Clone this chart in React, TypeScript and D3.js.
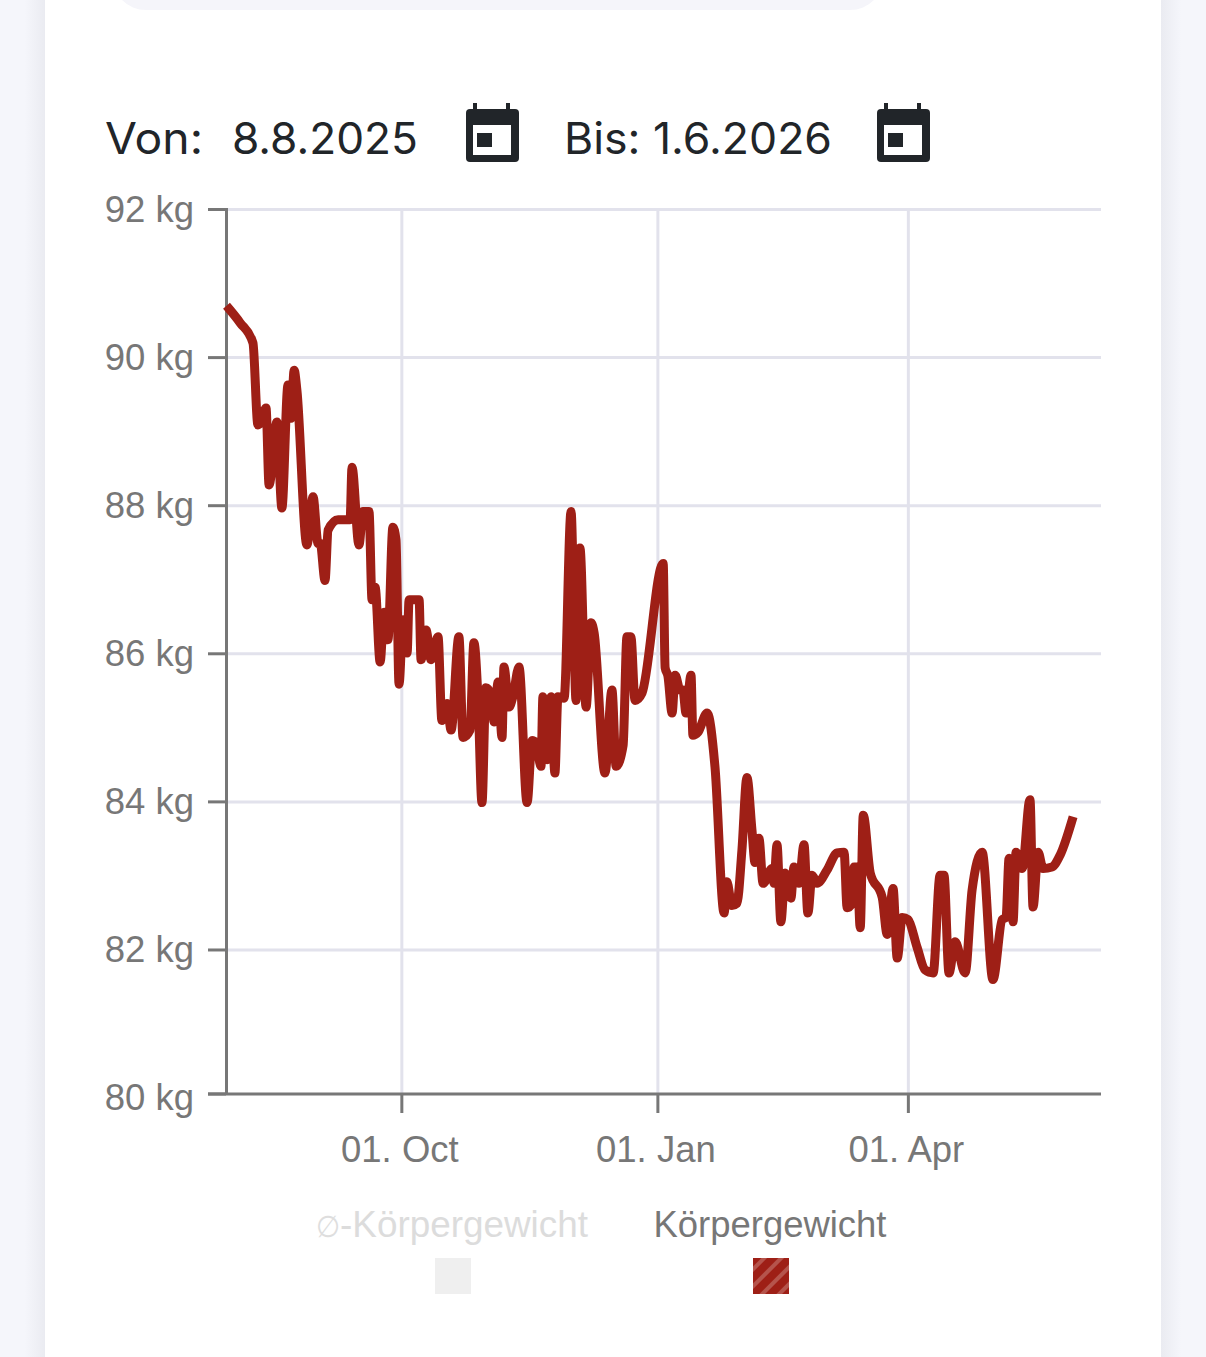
import React from "react";
import * as d3 from "d3";

const startDate = Date.UTC(2025, 6, 30);
const endDate = Date.UTC(2026, 5, 9);
const dayMs = 86400000;

const yTicks = [80, 82, 84, 86, 88, 90, 92];
const yAxisMin = 80.055;
const yAxisMax = 92;
const xTickDates = [Date.UTC(2025, 9, 1), Date.UTC(2026, 0, 1), Date.UTC(2026, 3, 1)];
const xTickLabels = ["01. Oct", "01. Jan", "01. Apr"];

const days = [
  0, 4.9, 9.5, 11.3, 12.4, 14.2, 15.3, 18.1, 19.9, 22.1, 23.2, 24.3, 25.3, 28.9, 31.1, 32.9, 33.7, 35.4, 36.5, 40.1, 44.4, 45.1,
  47.6, 49, 51.2, 52.3, 53.4, 55.2, 56.6, 58, 59.8, 60.9, 62, 63.4, 64.9, 65.6, 69.2, 69.9, 71.7, 73.5, 76, 77.4,
  79.2, 80.7, 83.5, 85, 87.5, 88.9, 90.4, 91.8, 93.2, 95.4, 96.1, 97.6, 99, 99.7, 101.5, 102.9, 105.1, 108, 109.8, 111.2,
  113, 113.7, 115.2, 116.6, 118, 119.1, 121.3, 123.8, 125.6, 127, 129.2, 131, 132.1, 136, 138.5, 140, 142.5, 143.9, 145.3, 146.8,
  149.3, 156.9, 157.6, 158.6, 160.1, 161.2, 163, 164, 165.1, 166.9, 167.6, 169.4, 172.7, 175.5, 178.8, 179.8, 181.6, 183.4, 185.2, 187, 188.8,
  189.9, 191.3, 192.8, 196, 196.7, 197.8, 199.2, 200.7, 202.8, 203.9, 205.7, 207.5, 208.9, 210.4, 212.2, 215.8, 219.4, 221.9, 223, 224.8,
  225.5, 226.6, 227.7, 228.8, 231.3, 235.6, 237.4, 239.5, 241, 242.8, 244.9, 248.1, 251, 253.9, 256.4, 257.8, 259.6, 261.8, 265.4, 267.9,
  271.5, 275.4, 278.7, 280.1, 281.2, 282.6, 283.7, 285.9, 288.7, 289.8, 291.6, 293.4, 296.6, 299.5, 304.2,
];

const weights = [
  90.7, 90.47, 90.2, 89.09, 89.13, 89.32, 88.28, 89.13, 87.97, 89.63, 89.18, 89.83, 89.56, 87.47, 88.12, 87.49, 87.49, 86.99, 87.67, 87.81, 87.81, 88.52,
  87.47, 87.92, 87.92, 86.73, 86.9, 85.89, 86.56, 86.19, 87.71, 87.54, 85.59, 86.46, 86.01, 86.73, 86.73, 85.92, 86.32, 85.92, 86.23, 85.1,
  85.33, 84.97, 86.23, 84.87, 84.97, 86.15, 85.37, 83.99, 85.54, 85.42, 85.08, 85.62, 84.87, 85.82, 85.28, 85.42, 85.82, 83.99, 84.83, 84.8,
  84.48, 85.42, 84.57, 85.42, 84.39, 85.42, 85.4, 87.92, 85.37, 87.43, 85.28, 86.42, 86.28, 84.39, 85.51, 84.48, 84.76, 86.23, 86.23, 85.37,
  85.47, 87.22, 85.81, 85.7, 85.2, 85.71, 85.51, 85.51, 85.2, 85.71, 84.9, 84.94, 85.2, 84.48, 82.5, 82.92, 82.6, 82.63, 83.35, 84.33, 83.62,
  83.18, 83.51, 82.9, 83.1, 82.9, 83.42, 82.38, 83.04, 82.7, 83.12, 82.9, 83.42, 82.5, 83.01, 82.9, 83.08, 83.31, 83.32, 82.57, 82.63,
  83.12, 83.12, 82.3, 83.82, 83.04, 82.71, 82.21, 82.83, 81.89, 82.44, 82.41, 82.04, 81.73, 81.69, 83.01, 83.01, 81.69, 82.11, 81.69, 82.81,
  83.32, 81.6, 82.41, 82.44, 83.24, 82.38, 83.32, 83.1, 84.03, 82.58, 83.32, 83.1, 83.12, 83.28, 83.8,
];

const legendAverage = "-Körpergewicht";
const legendAverageMark = "∅";
const legendWeight = "Körpergewicht";
const fromLabel = "Von:";
const fromDate = "8.8.2025";
const toLabel = "Bis: 1.6.2026";

const INK = "#212529";
const AXIS = "#777777";
const GRID = "#e2e2ec";
const RED = "#9e1f16";

function CalendarIcon({ x }: { x: number }) {
  return (
    <g transform={`translate(${x},103)`} fill={INK}>
      <rect x={8} y={0} width={4} height={10} />
      <rect x={41} y={0} width={4} height={10} />
      <rect x={1} y={6} width={53} height={53} rx={4} />
      <rect x={8} y={22} width={38} height={30} fill="#ffffff" />
      <rect x={12} y={30} width={15} height={14} />
    </g>
  );
}

export default function App() {
  const x = d3.scaleUtc().domain([startDate, endDate]).range([226.5, 1100.4]);
  const y = d3.scaleLinear().domain([yAxisMin, yAxisMax]).range([1094, 209.5]);
  const line = d3
    .line<number>()
    .x((d) => x(startDate + d * dayMs))
    .y((_, i) => y(weights[i]))
    .curve(d3.curveMonotoneX);
  const sans = "'Liberation Sans', Arial, sans-serif";
  const base = y(yAxisMin);

  return (
    <svg
      width={1206}
      height={1357}
      viewBox="0 0 1206 1357"
      style={{ position: "absolute", left: 0, top: 0, display: "block" }}
    >
      <defs>
        <linearGradient id="shadeL" x1="0" x2="1" y1="0" y2="0">
          <stop offset="0" stopColor="#f5f6fb" />
          <stop offset="0.55" stopColor="#f5f6fb" />
          <stop offset="1" stopColor="#eaebf1" />
        </linearGradient>
        <linearGradient id="shadeR" x1="1" x2="0" y1="0" y2="0">
          <stop offset="0" stopColor="#f5f6fb" />
          <stop offset="0.55" stopColor="#f5f6fb" />
          <stop offset="1" stopColor="#eaebf1" />
        </linearGradient>
        <pattern id="hatch" width="12" height="12" patternUnits="userSpaceOnUse" patternTransform="rotate(45)">
          <rect width="12" height="12" fill={RED} />
          <rect width="4" height="12" fill="#b5544c" />
        </pattern>
      </defs>

      <rect x={0} y={0} width={1206} height={1357} fill="#f5f6fb" />
      <rect x={0} y={0} width={45} height={1357} fill="url(#shadeL)" />
      <rect x={1161} y={0} width={45} height={1357} fill="url(#shadeR)" />
      <rect x={45} y={0} width={1116} height={1357} fill="#ffffff" />
      <rect x={112} y={-60} width={772} height={70} rx={34} fill="#f5f5fa" />

      <g opacity={0.999}>
        <g fontFamily="Inter, sans-serif" fontSize={44} fill={INK}>
          <text x={105} y={154} textLength={98} lengthAdjust="spacingAndGlyphs">{fromLabel}</text>
          <text x={232} y={154} textLength={186} lengthAdjust="spacingAndGlyphs">{fromDate}</text>
          <text x={564} y={154} textLength={268} lengthAdjust="spacingAndGlyphs">{toLabel}</text>
        </g>
      </g>
      <CalendarIcon x={465} />
      <CalendarIcon x={876} />

      {yTicks.filter((t) => t !== 80).map((t) => (
        <line key={t} x1={226} x2={1101} y1={y(t)} y2={y(t)} stroke={GRID} strokeWidth={3} />
      ))}
      {xTickDates.map((d) => (
        <line key={d} x1={x(d)} x2={x(d)} y1={209} y2={base} stroke={GRID} strokeWidth={3} />
      ))}

      <line x1={226.5} x2={226.5} y1={208} y2={base + 1} stroke={AXIS} strokeWidth={3} />
      <line x1={208} x2={1101} y1={base} y2={base} stroke={AXIS} strokeWidth={3} />
      <g opacity={0.999}>
        {yTicks.map((t) => (
          <g key={t}>
            <line x1={208} x2={226} y1={Math.min(y(t), base)} y2={Math.min(y(t), base)} stroke={AXIS} strokeWidth={3} />
            <text x={194} y={y(t) + 12} textAnchor="end" fontFamily={sans} fontSize={36.5} fill={AXIS}>
              {t} kg
            </text>
          </g>
        ))}
        {xTickDates.map((d, i) => (
          <g key={d}>
            <line x1={x(d)} x2={x(d)} y1={base} y2={base + 19} stroke={AXIS} strokeWidth={3} />
            <text x={x(d) - 2} y={1162} textAnchor="middle" fontFamily={sans} fontSize={36.5} fill={AXIS}>
              {xTickLabels[i]}
            </text>
          </g>
        ))}
      </g>

      <path
        d={line(days) ?? ""}
        fill="none"
        stroke={RED}
        strokeWidth={9}
        strokeLinejoin="round"
        strokeLinecap="butt"
      />

      <g opacity={0.999}>
        <text x={316} y={1237} fontFamily="'DejaVu Sans', sans-serif" fontWeight={200} fontSize={30} fill="#dedede" textLength={24} lengthAdjust="spacingAndGlyphs">
          {legendAverageMark}
        </text>
        <text x={340} y={1237} fontFamily={sans} fontSize={36.5} fill="#dcdcdc" textLength={248} lengthAdjust="spacingAndGlyphs">
          {legendAverage}
        </text>
        <text x={770} y={1237} textAnchor="middle" fontFamily={sans} fontSize={36.5} fill={AXIS} textLength={233} lengthAdjust="spacingAndGlyphs">
          {legendWeight}
        </text>
      </g>
      <rect x={435} y={1258} width={36} height={36} fill="#efefef" />
      <rect x={753} y={1258} width={36} height={36} fill="url(#hatch)" />
    </svg>
  );
}
